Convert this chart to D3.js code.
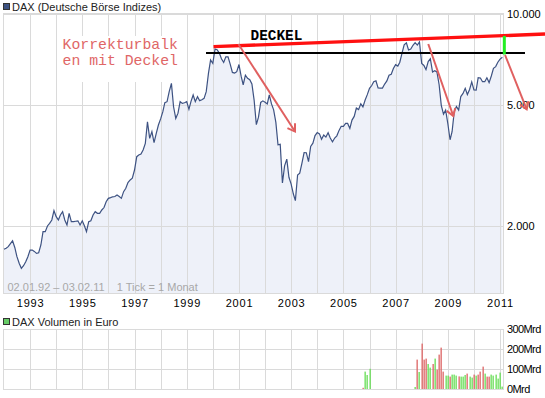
<!DOCTYPE html>
<meta charset='utf-8'>
<title>DAX</title>
<style>
body {
  margin: 0;
  background-color: #fff;
}
text {
  font-family: "Liberation Sans", Arial, sans-serif;
}
</style>
<svg width="545" height="398"></svg>
<script src="https://d3js.org/d3.v7.min.js"></script>
<script>

// DAX monthly values, Jan 1992 .. Feb 2011 (first point 02.01.92, last 03.02.11)
var startDate = "1992-01-02", endDate = "2011-02-03";
var closes = [
  1676, 1690, 1710, 1750, 1789, 1700, 1585, 1508, 1451, 1480, 1525, 1585,   // 1992
  1667, 1667, 1650, 1626, 1633, 1732, 1916, 1916, 2000, 2041, 2093, 2246,   // 1993
  2146, 2093, 2173, 2229, 2093, 2015, 2201, 2066, 2066, 2073, 2080, 2015,   // 1994
  2080, 2000, 1916, 2066, 2080, 2173, 2229, 2201, 2201, 2258, 2300, 2404,   // 1995
  2466, 2480, 2495, 2500, 2529, 2500, 2466, 2594, 2661, 2780, 2834, 2871,   // 1996
  3056, 3381, 3424, 3450, 3556, 3741, 4406, 3885, 4086, 3759, 4036, 4298,   // 1997
  4500, 4753, 5087, 5128, 5532, 5892, 4935, 4520, 4700, 5128, 5063, 5087,   // 1998
  5128, 4839, 5128, 5395, 5128, 5325, 5167, 5200, 5260, 5532, 6356, 7031,   // 1999
  6850, 7640, 7600, 7410, 7100, 6900, 7200, 7200, 6800, 6400, 6370, 6434,   // 2000
  6795, 6208, 5830, 6265, 6123, 6058, 5862, 5188, 4308, 4560, 5100, 5160,   // 2001
  5108, 5040, 5397, 5041, 4818, 4383, 3700, 3713, 2769, 3153, 3320, 2893,   // 2002
  2748, 2548, 2424, 2942, 2983, 3221, 3487, 3484, 3257, 3656, 3746, 3965,   // 2003
  4058, 4018, 3856, 3985, 3921, 4052, 3895, 3785, 3893, 3960, 4126, 4256,   // 2004
  4254, 4350, 4349, 4185, 4460, 4587, 4886, 4829, 5044, 4929, 5193, 5408,   // 2005
  5674, 5796, 5970, 6009, 5692, 5683, 5682, 5860, 6004, 6268, 6309, 6597,   // 2006
  6789, 6716, 6917, 7409, 7884, 8007, 7584, 7638, 7862, 8020, 7871, 8067,   // 2007
  6851, 6748, 6535, 6949, 7097, 6418, 6479, 6422, 5831, 4988, 4669, 4810,   // 2008
  4338, 3844, 4085, 4769, 4941, 4809, 5332, 5458, 5675, 5415, 5625, 5957,   // 2009
  5608, 5598, 6154, 6136, 5965, 5966, 6148, 5925, 6229, 6601, 6688, 6914,   // 2010
  7077, 7180                                                                // 2011
];

// Volume in Mrd Euro, monthly; dir: "+" = green, "-" = red
var volMonths = ["2005-10", "2005-11", "2005-12", "2006-01",
  "2007-10", "2007-11", "2007-12",
  "2008-01", "2008-02", "2008-03", "2008-04", "2008-05", "2008-06", "2008-07", "2008-08", "2008-09", "2008-10", "2008-11", "2008-12",
  "2009-01", "2009-02", "2009-03", "2009-04", "2009-05", "2009-06", "2009-07", "2009-08", "2009-09", "2009-10", "2009-11", "2009-12",
  "2010-01", "2010-02", "2010-03", "2010-04", "2010-05", "2010-06", "2010-07", "2010-08", "2010-09", "2010-10", "2010-11", "2010-12",
  "2011-01", "2011-02"];
var volValues = [6, 87, 70, 101,
  10, 147, 85,
  227, 147, 152, 125, 107, 125, 152, 97, 172, 207, 87, 67,
  67, 62, 72, 72, 67, 63, 62, 62, 70, 77, 62, 57,
  72, 67, 72, 87, 112, 77, 62, 62, 72, 67, 72, 52,
  82, 12];
var volDir = ["-", "+", "+", "+",
  "+", "-", "+",
  "-", "-", "-", "+", "+", "-", "+", "-", "-", "-", "-", "+",
  "+", "-", "+", "+", "+", "-", "+", "+", "+", "-", "+", "+",
  "-", "+", "-", "-", "-", "+", "-", "-", "+", "+", "+", "+",
  "+", "+"];

var priceTicks = [2000, 5000, 10000];
var volTicks = [0, 100, 200, 300];

// hand-drawn annotations, in [date, value] terms
var deckelLine = [["1999-09-28", 7413], ["2011-12-16", 7413]];
var topLine = [["2000-01-11", 7779], ["2012-09-21", 8561]];
var gapLine = [["2011-03-02", 8440], ["2011-03-02", 7330]];
var arrows = [
  [["2000-12-23", 7938], ["2003-02-24", 4090]],
  [["2008-04-02", 7938], ["2009-03-18", 4600]],
  [["2011-03-12", 7303], ["2012-01-09", 4841]]
];

var svg = d3.select("svg");
var parse = d3.timeParse("%Y-%m-%d");
var de = d3.formatLocale({decimal: ",", thousands: ".", grouping: [3], currency: ["", " €"]});
var mono = "'Liberation Mono', 'DejaVu Sans Mono', monospace";
var sans = "'Liberation Sans', Arial, sans-serif";

var months = d3.timeMonth.range(new Date(1992, 0, 1), new Date(2011, 2, 1));
months[0] = parse(startDate);
months[months.length - 1] = parse(endDate);
var series = months.map(function(d, i) { return {date: d, value: closes[i]}; });

var x = d3.scaleTime()
    .domain([parse(startDate), parse(endDate)])
    .range([4, 502.4]);

var y = d3.scaleLog()
    .domain([1204, 10000])
    .range([293, 13.5]);

var yVol = d3.scaleLinear()
    .domain([0, 300])
    .range([389, 329]);

var years = d3.timeYear.range(new Date(1993, 0, 1), new Date(2011, 0, 2));
var oddYears = years.filter(function(d) { return d.getFullYear() % 2 === 1; });

var grid = "#dadada";

// ---- price panel ----
svg.append("text")
    .attr("x", 12).attr("y", 10.5)
    .attr("font-size", 11)
    .attr("fill", "#222")
    .text("DAX (Deutsche Börse Indizes)");
svg.append("rect")
    .attr("x", 3.5).attr("y", 3.5).attr("width", 6).attr("height", 6)
    .attr("fill", "#3d5282").attr("stroke", "#333");

svg.append("path")
    .attr("fill", "#eef1f9")
    .attr("d", d3.area()
        .x(function(d) { return x(d.date); })
        .y0(293)
        .y1(function(d) { return y(d.value); })(series));

svg.append("g")
    .selectAll("line")
    .data(years)
  .enter().append("line")
    .attr("x1", function(d) { return Math.round(x(d)) + 0.5; })
    .attr("x2", function(d) { return Math.round(x(d)) + 0.5; })
    .attr("y1", 13).attr("y2", 293)
    .attr("stroke", grid);

svg.append("g")
    .selectAll("line")
    .data(priceTicks)
  .enter().append("line")
    .attr("x1", 3).attr("x2", 503)
    .attr("y1", function(d) { return Math.round(y(d)) + 0.5; })
    .attr("y2", function(d) { return Math.round(y(d)) + 0.5; })
    .attr("stroke", grid);

svg.append("rect")
    .attr("x", 3.5).attr("y", 13.5).attr("width", 500).attr("height", 280)
    .attr("fill", "none").attr("stroke", grid);

svg.append("path")
    .attr("fill", "none")
    .attr("stroke", "#3d5282")
    .attr("stroke-width", 1.2)
    .attr("d", d3.line()
        .x(function(d) { return x(d.date); })
        .y(function(d) { return y(d.value); })(series));

svg.append("text")
    .attr("x", 7.5).attr("y", 290.5)
    .attr("font-size", 11)
    .attr("fill", "#a8a8a8")
    .style("white-space", "pre")
    .text("02.01.92 – 03.02.11    1 Tick = 1 Monat");

var xAxis = svg.append("g")
    .attr("transform", "translate(0,293)")
    .call(d3.axisBottom(x)
        .tickValues(oddYears)
        .tickSize(0)
        .tickPadding(6)
        .tickFormat(d3.timeFormat("%Y")));
xAxis.select(".domain").remove();
xAxis.selectAll("text")
    .style("font-family", sans)
    .style("font-size", "11px")
    .style("letter-spacing", "0.8px")
    .attr("fill", "#000");

var yAxis = svg.append("g")
    .attr("transform", "translate(503,0)")
    .call(d3.axisRight(y)
        .tickValues(priceTicks)
        .tickSize(0)
        .tickPadding(4)
        .tickFormat(de.format(",d")));
yAxis.select(".domain").remove();
yAxis.selectAll("text")
    .style("font-family", sans)
    .style("font-size", "11px")
    .attr("fill", "#000");

// ---- annotations ----
var pt = function(p) { return [x(parse(p[0])), y(p[1])]; };

svg.append("rect")
    .attr("x", 58).attr("y", 36).attr("width", 125).attr("height", 46)
    .attr("fill", "#fff");

svg.append("text")
    .style("font-family", mono)
    .style("font-size", "14.8px")
    .attr("fill", "#e06666")
    .selectAll("tspan")
    .data(["Korrekturbalk", "en mit Deckel"])
  .enter().append("tspan")
    .attr("x", 62.5)
    .attr("y", function(d, i) { return 49 + i * 16; })
    .text(function(d) { return d; });

svg.append("text")
    .attr("x", 250.5).attr("y", 39.5)
    .style("font-family", mono)
    .style("font-weight", "bold")
    .style("font-size", "14.4px")
    .attr("fill", "#000")
    .text("DECKEL");

svg.append("path")
    .attr("stroke", "#000").attr("stroke-width", 2.2)
    .attr("d", d3.line()(deckelLine.map(pt)));

svg.append("path")
    .attr("stroke", "#ff1010").attr("stroke-width", 3.4)
    .attr("d", d3.line()(topLine.map(pt)));

svg.append("defs").append("marker")
    .attr("id", "head")
    .attr("markerUnits", "userSpaceOnUse")
    .attr("viewBox", "-9 -6 11 12")
    .attr("markerWidth", 11).attr("markerHeight", 12)
    .attr("refX", 0).attr("refY", 0)
    .attr("orient", "auto")
  .append("path")
    .attr("d", "M-7,-4.5L0,0L-7,4.5")
    .attr("fill", "none")
    .attr("stroke", "#e06060")
    .attr("stroke-width", 2);

svg.append("g")
    .selectAll("path")
    .data(arrows)
  .enter().append("path")
    .attr("stroke", "#e06060")
    .attr("stroke-width", 2)
    .attr("fill", "none")
    .attr("marker-end", "url(#head)")
    .attr("d", function(d) { return d3.line()(d.map(pt)); });

svg.append("path")
    .attr("stroke", "#22ee22").attr("stroke-width", 3)
    .attr("d", d3.line()(gapLine.map(pt)));

// ---- volume panel ----
svg.append("rect")
    .attr("x", 3.5).attr("y", 318.5).attr("width", 6).attr("height", 6)
    .attr("fill", "#66cc66").attr("stroke", "#333");
svg.append("text")
    .attr("x", 12).attr("y", 325.5)
    .attr("font-size", 11)
    .attr("fill", "#222")
    .text("DAX Volumen in Euro");

svg.append("g")
    .selectAll("line")
    .data(years)
  .enter().append("line")
    .attr("x1", function(d) { return Math.round(x(d)) + 0.5; })
    .attr("x2", function(d) { return Math.round(x(d)) + 0.5; })
    .attr("y1", 329).attr("y2", 389)
    .attr("stroke", grid);

svg.append("g")
    .selectAll("line")
    .data(volTicks)
  .enter().append("line")
    .attr("x1", 3).attr("x2", 503)
    .attr("y1", function(d) { return Math.round(yVol(d)) + 0.5; })
    .attr("y2", function(d) { return Math.round(yVol(d)) + 0.5; })
    .attr("stroke", grid);

svg.append("rect")
    .attr("x", 3.5).attr("y", 329.5).attr("width", 500).attr("height", 60)
    .attr("fill", "none").attr("stroke", grid);

svg.append("g")
    .selectAll("rect")
    .data(volMonths)
  .enter().append("rect")
    .attr("x", function(d) { return Math.round(x(d3.timeParse("%Y-%m")(d))) - 0.5; })
    .attr("width", 1.3)
    .attr("y", function(d, i) { return yVol(volValues[i]); })
    .attr("height", function(d, i) { return yVol(0) - yVol(volValues[i]); })
    .attr("fill", function(d, i) { return volDir[i] === "+" ? "#66dd55" : "#dd6464"; });

var vAxis = svg.append("g")
    .attr("transform", "translate(503,0)")
    .call(d3.axisRight(yVol)
        .tickValues(volTicks)
        .tickSize(0)
        .tickPadding(4)
        .tickFormat(function(d) { return d + "Mrd"; }));
vAxis.select(".domain").remove();
vAxis.selectAll("text")
    .style("font-family", sans)
    .style("font-size", "11px")
    .style("letter-spacing", "-0.6px")
    .attr("fill", "#000");

</script>
